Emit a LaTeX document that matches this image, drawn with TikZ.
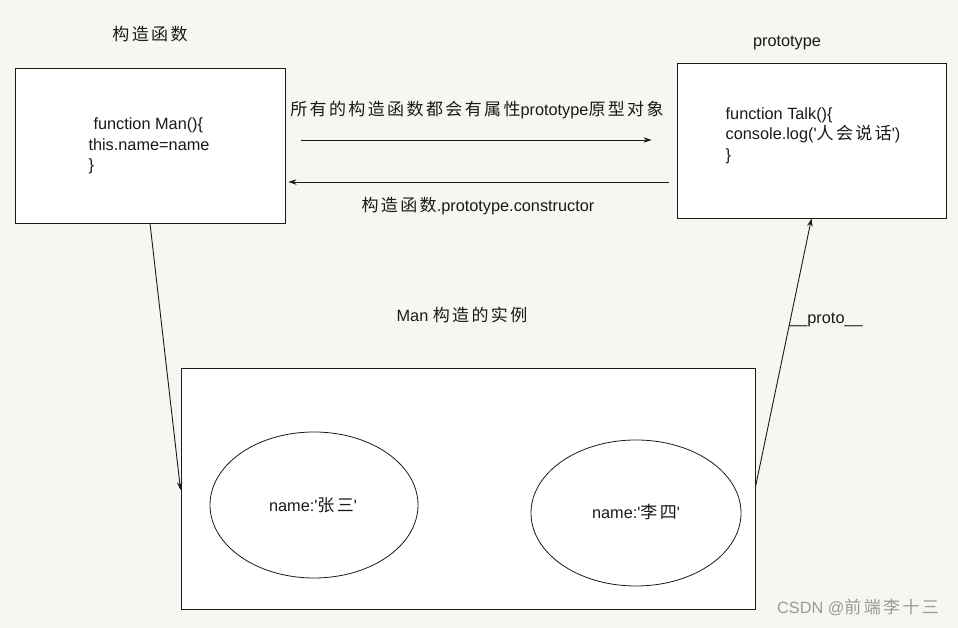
\documentclass[tikz,border=0pt]{standalone}
\usepackage{fontspec}
\setmainfont{Liberation Sans}[Ligatures=TeXOff]
\newfontfamily\cjkfont{Noto Sans CJK SC}[LetterSpace=14]
\usetikzlibrary{arrows.meta,shapes.geometric}
\newcommand{\zh}[1]{{\cjkfont\fontsize{17}{20.5}\selectfont #1}}
\definecolor{bgc}{HTML}{F8F6F1}
\definecolor{ink}{HTML}{1A1A1A}
\tikzset{
  box/.style={draw=ink, fill=white, line width=0.9pt, rectangle, inner sep=0pt},
  oval/.style={draw=ink, fill=white, line width=0.8pt, ellipse, inner sep=0pt},
  arr/.style={draw=ink, line width=0.9pt, -{Stealth[length=8pt,width=5.5pt]}},
  lbl/.style={text=ink, inner sep=0pt, font=\fontsize{16.3}{20.5}\selectfont},
  code/.style={lbl, align=left}
}
\begin{document}
\begin{tikzpicture}[x=1pt,y=1pt]
\fill[bgc] (0,0) rectangle (958,628);
\useasboundingbox (0,0) rectangle (958,628);

% boxes
\node[box, minimum width=270pt, minimum height=155pt] (ctor) at (150,482.5) {};
\node[box, minimum width=269pt, minimum height=155pt] (proto) at (811.5,487.5) {};
\node[box, minimum width=574pt, minimum height=241pt] (inst) at (468,139.5) {};
\node[oval, minimum width=208pt, minimum height=146pt] (zs) at (314,123) {};
\node[oval, minimum width=210pt, minimum height=146pt] (ls) at (636,115) {};

% box contents
\node[code] (mancode) at (149,482) {\hspace{5pt}function Man()\{\\this.name=name\\\}};
\node[code] (talkcode) at (813,492.5) {function Talk()\{\\console.log('\zh{人会说话}')\\\}};
\node[lbl] (zsname) at (313,123) {name:'\zh{张三}'};
\node[lbl] (lsname) at (636,116) {name:'\zh{李四}'};

% titles
\node[lbl] (ctortitle) at (150,594) {\zh{构造函数}};
\node[lbl] (prototitle) at (787,585) {prototype};
\node[lbl] (insttitle) at (462,313) {Man \zh{构造的实例}};

% connectors
\draw[arr, shorten <=16pt, shorten >=25pt] ([yshift=5.5pt]ctor.east) -- ([yshift=0.5pt]proto.west);
\draw[arr, shorten <=8pt, shorten >=3pt] ([yshift=-41.5pt]proto.west) -- ([yshift=-36.5pt]ctor.east);
\draw[arr] (ctor.south) -- ([yshift=-1.5pt]inst.west);
\draw[arr] ([yshift=1.5pt]inst.east) -- (proto.south);

% connector labels
\node[lbl] (toplbl) at (477,518) {\zh{所有的构造函数都会有属性}prototype\zh{原型对象}};
\node[lbl] (botlbl) at (478,422) {\zh{构造函数}.prototype.constructor};
\node[lbl] (protolbl) at (826,308) {\_\_proto\_\_};

% watermark
\node[lbl, text=black!40] (wm) at (858,21) {CSDN @\zh{前端李十三}};
\end{tikzpicture}
\end{document}
